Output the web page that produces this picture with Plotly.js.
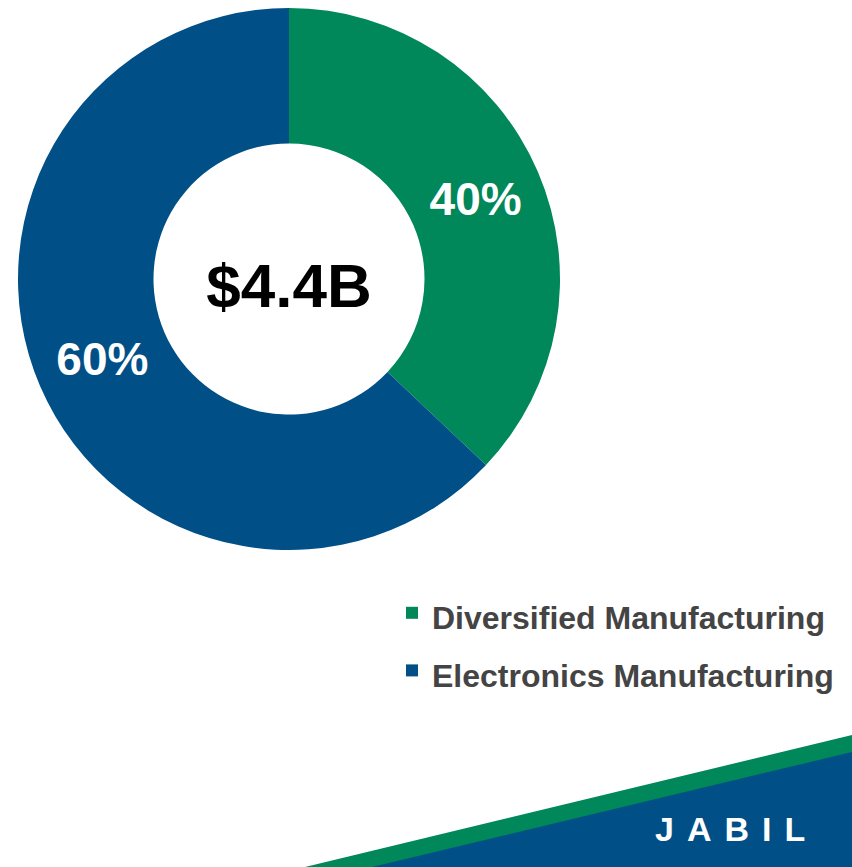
<!DOCTYPE html>
<html>
<head>
<meta charset="utf-8">
<script src="https://cdn.plot.ly/plotly-3.0.1.min.js"></script>
<style>html,body{margin:0;padding:0;background:#fff;}#chart{width:852px;height:867px;}</style>
</head>
<body>
<div id="chart"></div>
<script>
var categories = ["Diversified Manufacturing", "Electronics Manufacturing"];
var revenueB = [1.63, 2.77];
var sliceLabels = ["40%", "60%"];
var sliceColors = ["#00875A", "#005087"];
var totalLabel = "$4.4B";
var logoText = "JABIL";

var FONT = "Arial, 'Liberation Sans', sans-serif";

var trace = {
  type: "pie",
  labels: categories.map(function (c) { return '<span style="font-size:32px">' + c + '</span>'; }),
  values: revenueB,
  text: sliceLabels,
  textinfo: "text",
  textposition: "inside",
  insidetextorientation: "horizontal",
  textfont: {family: FONT, size: 46, color: "#ffffff", weight: "bold"},
  marker: {colors: sliceColors, line: {width: 0}},
  hole: 0.5,
  sort: false,
  direction: "clockwise",
  rotation: 0,
  hoverinfo: "none",
  title: {text: totalLabel, position: "middle center", font: {family: FONT, size: 62, color: "#000000", weight: "bold"}},
  domain: {x: [18 / 852, 560 / 852], y: [1 - 550 / 867, 1 - 8 / 867]}
};

var layout = {
  width: 852,
  height: 867,
  margin: {l: 0, r: 0, t: 0, b: 0},
  paper_bgcolor: "#ffffff",
  showlegend: true,
  legend: {
    x: 392 / 852, xanchor: "left",
    y: 1 - 579 / 867, yanchor: "top",
    font: {family: FONT, size: 42, color: "#444444", weight: "bold"},
    bgcolor: "rgba(0,0,0,0)",
    borderwidth: 0
  },
  shapes: [
    {type: "path", xref: "paper", yref: "paper", layer: "below",
     path: "M " + (305 / 852) + ",0 L 1," + (1 - 735 / 867) + " L 1,0 Z",
     fillcolor: "#00875A", line: {width: 0}},
    {type: "path", xref: "paper", yref: "paper", layer: "below",
     path: "M " + (372 / 852) + ",0 L 1," + (1 - 752 / 867) + " L 1,0 Z",
     fillcolor: "#005087", line: {width: 0}}
  ],
  annotations: [
    {xref: "paper", yref: "paper", x: 653 / 852, y: 1 - 829 / 867, xanchor: "left", yanchor: "middle",
     showarrow: false,
     text: '<span style="letter-spacing:13px">' + logoText + '</span>',
     font: {family: FONT, size: 34, color: "#ffffff", weight: "bold"}}
  ]
};

Plotly.newPlot("chart", [trace], layout, {displayModeBar: false, staticPlot: true});
</script>
</body>
</html>
